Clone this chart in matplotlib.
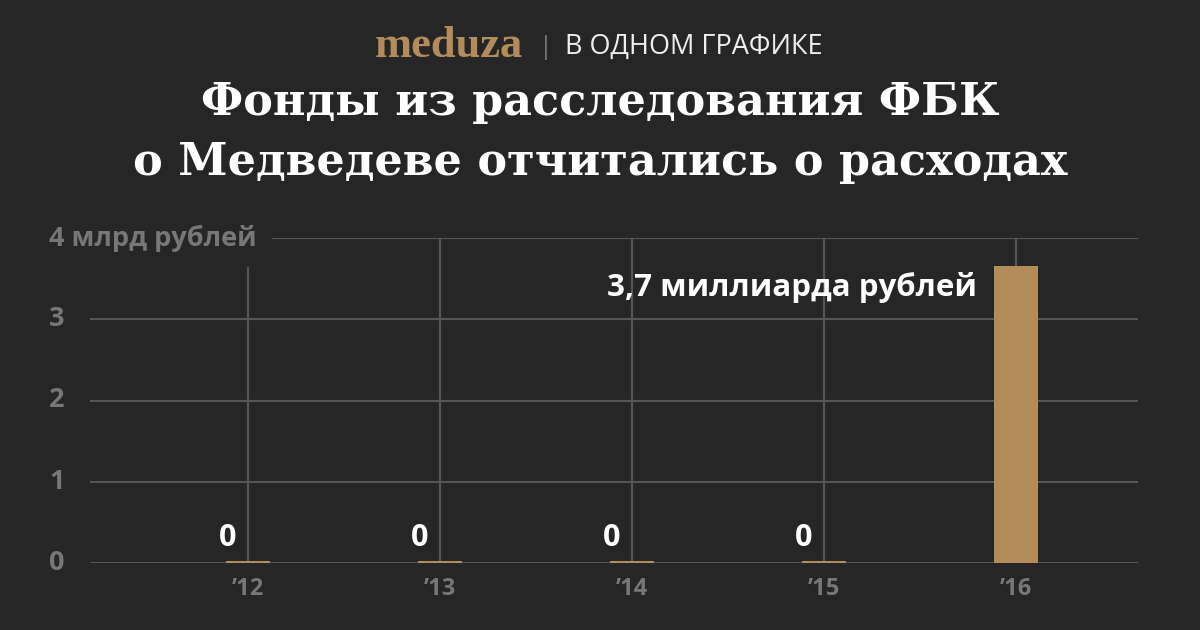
import matplotlib
matplotlib.use("Agg")
import matplotlib.pyplot as plt

# data
years = ["’12", "’13", "’14", "’15", "’16"]
spending = [0, 0, 0, 0, 3.65]
value_labels = ["0", "0", "0", "0", "3,7 миллиарда рублей"]
y_ticks = [0, 1, 2, 3, 4]
y_tick_labels = ["0", "1", "2", "3", "4 млрд рублей"]

BG = "#262626"
GOLD = "#b48b5a"
GRID = "#555555"
MUTED = "#777777"
SANS = ["Open Sans", "DejaVu Sans"]
SERIF = ["DejaVu Serif", "Liberation Serif"]

fig = plt.figure(figsize=(12, 6.3), dpi=100, facecolor=BG)
ax = fig.add_axes([0.075, 0.1063, 0.873, 0.5159])
ax.set_facecolor(BG)

x = list(range(len(years)))
bar_w = 0.23
# zero values still get a hairline bar, as in the original
heights = [max(v, 0.025) for v in spending]
ax.bar(x, heights, width=bar_w, color=GOLD, zorder=3)

ax.set_xlim(-0.823, 4.635)
ax.set_ylim(0, 4)
for y in y_ticks:
    ax.axhline(y, color=GRID, lw=1.5, zorder=1)
for xi in x:
    ax.axvline(xi, color=GRID, lw=1.5, zorder=1)

for s in ax.spines.values():
    s.set_visible(False)
ax.set_xticks([])
ax.set_yticks([])

# tick labels
for xi, lab in zip(x, years):
    ax.annotate(lab, (xi, 0), xytext=(0, -19), textcoords="offset points",
                ha="center", va="center", color=MUTED, fontsize=17,
                fontweight="bold", family=SANS)
for y, lab in zip(y_ticks, y_tick_labels):
    t = ax.text(0.041, (1 - 563 / 630) + y * 0.5159 / 4, lab, transform=fig.transFigure,
                ha="left", va="center", color=MUTED, fontsize=19.5,
                fontweight="bold", family=SANS, zorder=5)
    if y == 4:
        # masks the start of the top gridline and the first vertical
        t.set_bbox(dict(facecolor=BG, edgecolor="none", pad=11))

# value labels
for xi, v, lab in zip(x, spending, value_labels):
    if v == 0:
        ax.annotate(lab, (xi, 0), xytext=(-8, 18), textcoords="offset points",
                    ha="right", va="center", color="white", fontsize=22,
                    fontweight="bold", family=SANS)
    else:
        ax.annotate(lab, (xi - bar_w / 2, v), xytext=(-12, -15), textcoords="offset points",
                    ha="right", va="center", color="white", fontsize=22.5,
                    fontweight="bold", family=SANS, zorder=5)

# header
fig.text(0.436, 1 - 46 / 630, "meduza", ha="right", va="center", color=GOLD,
         fontsize=32, fontweight="bold", family=["Liberation Serif"])
fig.text(0.4545, 1 - 47 / 630, "|", ha="center", va="center", color=MUTED,
         fontsize=18, family=SANS)
fig.text(0.471, 1 - 47 / 630, "В ОДНОМ ГРАФИКЕ", ha="left", va="center",
         color="#eeeeee", fontsize=19.5, family=SANS)

fig.text(0.5, 1 - 115 / 630, "Фонды из расследования ФБК", ha="center", va="baseline",
         color="white", fontsize=32, fontweight="bold", family=SERIF)
fig.text(0.5, 1 - 175 / 630, "о Медведеве отчитались о расходах", ha="center",
         va="baseline", color="white", fontsize=32, fontweight="bold", family=SERIF)

fig.savefig("out.png", dpi=100, facecolor=BG)
